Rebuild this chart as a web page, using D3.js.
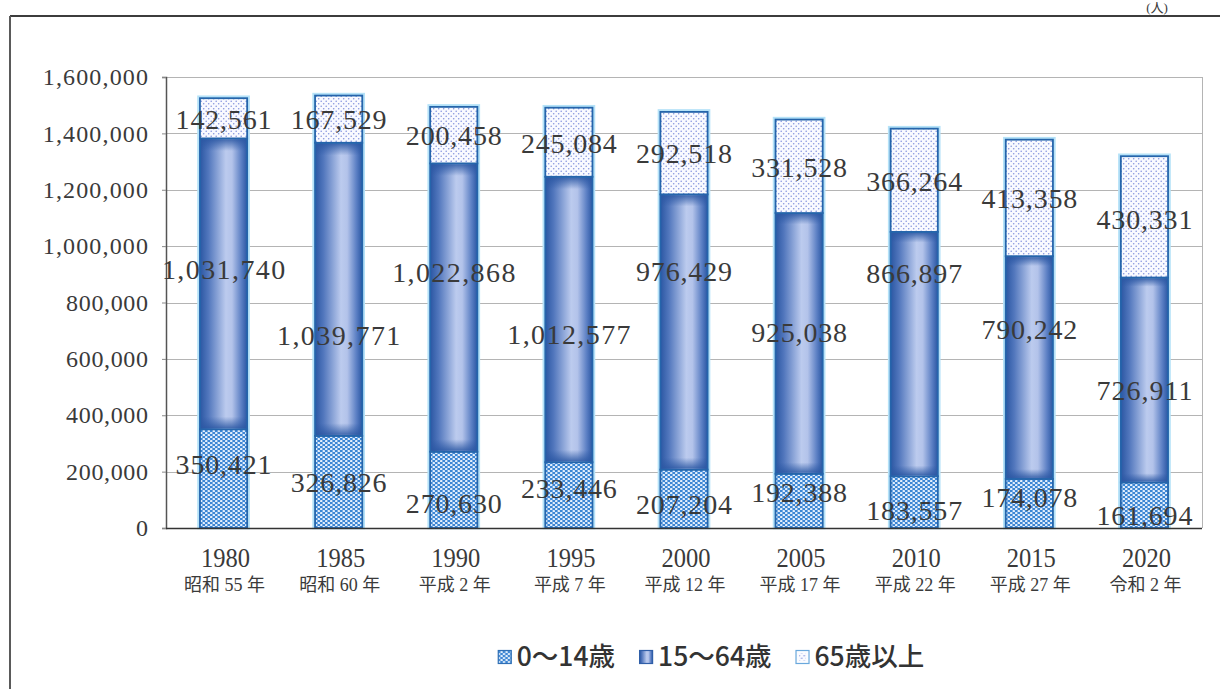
<!DOCTYPE html>
<html>
<head>
<meta charset="utf-8">
<script src="https://cdn.jsdelivr.net/npm/d3@7"></script>
<style>
  html, body { margin: 0; padding: 0; background: #fff; }
  svg { display: block; }
</style>
</head>
<body>
<svg id="chart" width="1220" height="689"></svg>
<script>
// ---- data ----
const years = ["1980", "1985", "1990", "1995", "2000", "2005", "2010", "2015", "2020"];
const eraLabels = ["昭和 55 年", "昭和 60 年", "平成 2 年", "平成 7 年", "平成 12 年", "平成 17 年", "平成 22 年", "平成 27 年", "令和 2 年"];
const age0_14 = [350421, 326826, 270630, 233446, 207204, 192388, 183557, 174078, 161694];
const age15_64 = [1031740, 1039771, 1022868, 1012577, 976429, 925038, 866897, 790242, 726911];
const age65 = [142561, 167529, 200458, 245084, 292518, 331528, 366264, 413358, 430331];
const seriesNames = ["0〜14歳", "15〜64歳", "65歳以上"];
const yTicks = [0, 200000, 400000, 600000, 800000, 1000000, 1200000, 1400000, 1600000];
// label anchor values (in data units, as placed in the original chart)
const labelAt0_14 = [227000, 163000, 89000, 142000, 85000, 128000, 64000, 110000, 46000];
const labelAt15_64 = [920000, 685000, 908000, 688000, 912000, 695000, 905000, 706000, 490000];
const labelAt65 = [1450000, 1450000, 1395000, 1365000, 1330000, 1280000, 1230000, 1170000, 1095000];

const keys = ["a", "b", "c"];
const table = years.map((yr, i) => ({ year: yr, a: age0_14[i], b: age15_64[i], c: age65[i] }));
const labelAnchors = { a: labelAt0_14, b: labelAt15_64, c: labelAt65 };

// ---- layout ----
const svg = d3.select("#chart");
const plot = { left: 166, right: 1202, top: 77, bottom: 528 };
const numFont = "'Liberation Serif', 'DejaVu Serif', serif";
const textColor = "#3a3a3a";

const x = d3.scaleBand().domain(years).range([plot.left, plot.right]).paddingInner(0.59).paddingOuter(0.295);
const y = d3.scaleLinear().domain([0, 1600000]).range([plot.bottom, plot.top]);

// ---- defs ----
const defs = svg.append("defs");
const pA = defs.append("pattern").attr("id", "patA").attr("patternUnits", "userSpaceOnUse")
  .attr("width", 5).attr("height", 4);
pA.append("rect").attr("width", 5).attr("height", 4).attr("fill", "#3d86d4");
pA.append("ellipse").attr("cx", 1.25).attr("cy", 1).attr("rx", 1.35).attr("ry", 0.95).attr("fill", "#eef6ff");
pA.append("ellipse").attr("cx", 3.75).attr("cy", 3).attr("rx", 1.35).attr("ry", 0.95).attr("fill", "#eef6ff");

const pC = defs.append("pattern").attr("id", "patC").attr("patternUnits", "userSpaceOnUse")
  .attr("width", 5).attr("height", 5);
pC.append("rect").attr("width", 5).attr("height", 5).attr("fill", "#f9faff");
pC.append("circle").attr("cx", 1.2).attr("cy", 1.2).attr("r", 0.8).attr("fill", "#8795de");
pC.append("circle").attr("cx", 3.7).attr("cy", 3.7).attr("r", 0.8).attr("fill", "#8795de");

const gB = defs.append("linearGradient").attr("id", "gradB").attr("x1", 0).attr("x2", 1).attr("y1", 0).attr("y2", 0);
[[0, "#2b57a3"], [0.18, "#5277bd"], [0.55, "#bccbee"], [0.68, "#b3c3ea"], [0.88, "#5a7ec3"], [1, "#2b57a3"]]
  .forEach(([o, c]) => gB.append("stop").attr("offset", o).attr("stop-color", c));
const gBv = defs.append("linearGradient").attr("id", "gradBv").attr("x1", 0).attr("x2", 0).attr("y1", 0).attr("y2", 1);
[[0, "#2b57a3", 0.85], [0.04, "#2b57a3", 0], [0.96, "#2b57a3", 0], [1, "#2b57a3", 0.85]]
  .forEach(([o, c, op]) => gBv.append("stop").attr("offset", o).attr("stop-color", c).attr("stop-opacity", op));

const fills = { a: "url(#patA)", b: "url(#gradB)", c: "url(#patC)" };

// ---- outer frame ----
svg.append("line").attr("x1", 10).attr("x2", 1220).attr("y1", 16).attr("y2", 16).attr("stroke", "#3c3c3c").attr("stroke-width", 2);
svg.append("line").attr("x1", 10).attr("x2", 10).attr("y1", 16).attr("y2", 689).attr("stroke", "#5a5a5a").attr("stroke-width", 2);
svg.append("text").attr("x", 1157).attr("y", 12).attr("text-anchor", "middle")
  .attr("font-family", "'Liberation Serif', 'Noto Sans CJK JP', serif").attr("font-size", 13).attr("fill", textColor).text("(人)");

// ---- gridlines ----
svg.append("g").selectAll("line").data(yTicks.filter(d => d > 0)).join("line")
  .attr("x1", plot.left).attr("x2", plot.right)
  .attr("y1", d => Math.round(y(d)) + 0.5).attr("y2", d => Math.round(y(d)) + 0.5)
  .attr("stroke", "#b4b4b4").attr("stroke-width", 1);
svg.append("line").attr("x1", plot.right + 0.5).attr("x2", plot.right + 0.5)
  .attr("y1", plot.top).attr("y2", plot.bottom).attr("stroke", "#b4b4b4");

// ---- y axis ----
const yAxis = svg.append("g").attr("transform", `translate(${plot.left},0)`)
  .call(d3.axisLeft(y).tickValues(yTicks).tickSize(4).tickPadding(14).tickFormat(d3.format(",")));
yAxis.select(".domain").attr("stroke", "#555").attr("stroke-width", 1.5);
yAxis.selectAll(".tick line").attr("stroke", "#888");
yAxis.selectAll("text").attr("font-family", numFont).attr("font-size", 24).attr("fill", textColor)
  .each(function () {
    const t = d3.select(this).text();
    if (t.length > 1) d3.select(this).attr("textLength", t.length * 11.7).attr("lengthAdjust", "spacing");
  });

// ---- bars ----
const stacked = d3.stack().keys(keys)(table);
const barsG = svg.append("g");
barsG.selectAll("rect.glow").data(table).join("rect").attr("class", "glow")
  .attr("x", d => x(d.year) - 1.5).attr("width", x.bandwidth() + 3)
  .attr("y", d => y(d.a + d.b + d.c) - 1.5).attr("height", d => y(0) - y(d.a + d.b + d.c) + 1.5)
  .attr("fill", "none").attr("stroke", "#b5e2f8").attr("stroke-width", 2.5);

stacked.forEach(s => {
  const g = barsG.append("g");
  g.selectAll("rect.seg").data(s).join("rect").attr("class", "seg")
    .attr("x", d => x(d.data.year)).attr("width", x.bandwidth())
    .attr("y", d => y(d[1])).attr("height", d => y(d[0]) - y(d[1]))
    .attr("fill", fills[s.key]).attr("stroke", "#2565ab").attr("stroke-width", 1.8);
  if (s.key === "b") {
    g.selectAll("rect.shade").data(s).join("rect").attr("class", "shade")
      .attr("x", d => x(d.data.year) + 1).attr("width", x.bandwidth() - 2)
      .attr("y", d => y(d[1]) + 1).attr("height", d => y(d[0]) - y(d[1]) - 2)
      .attr("fill", "url(#gradBv)");
  }
});

// bottom axis line
svg.append("line").attr("x1", plot.left).attr("x2", plot.right)
  .attr("y1", plot.bottom + 0.5).attr("y2", plot.bottom + 0.5).attr("stroke", "#333").attr("stroke-width", 1.5);

// ---- value labels ----
const fmt = d3.format(",");
keys.forEach(k => {
  svg.append("g").selectAll("text").data(table).join("text")
    .attr("x", d => x(d.year) + x.bandwidth() / 2)
    .attr("y", (d, i) => y(labelAnchors[k][i]))
    .attr("dy", "0.36em")
    .attr("text-anchor", "middle")
    .attr("font-family", numFont).attr("font-size", 28).attr("fill", textColor)
    .text(d => fmt(d[k]))
    .attr("textLength", d => fmt(d[k]).length * 13.7).attr("lengthAdjust", "spacing");
});

// ---- x labels ----
const xl = svg.append("g");
xl.selectAll("text.yr").data(years).join("text").attr("class", "yr")
  .attr("x", d => x(d) + x.bandwidth() / 2 + 2).attr("y", 567)
  .attr("text-anchor", "middle").attr("font-family", numFont).attr("font-size", 28).attr("fill", textColor)
  .attr("textLength", 49).attr("lengthAdjust", "spacingAndGlyphs")
  .text(d => d);
xl.selectAll("text.era").data(eraLabels).join("text").attr("class", "era")
  .attr("x", (d, i) => x(years[i]) + x.bandwidth() / 2 + 1).attr("y", 591)
  .attr("text-anchor", "middle")
  .attr("font-family", "'Liberation Serif', 'Noto Sans CJK JP', serif").attr("font-size", 18).attr("fill", textColor)
  .text(d => d);

// ---- legend ----
const legend = svg.append("g");
const legendFills = ["url(#patA)", "url(#gradB)", "#fbfcff"];
const legendStrokes = ["#2f6fb5", "#2f5ea8", "#6aa8dc"];
let lx = 0;
seriesNames.forEach((name, i) => {
  const g = legend.append("g");
  g.append("rect").attr("x", 0.5).attr("y", -6.5).attr("width", 13).attr("height", 13)
    .attr("fill", legendFills[i]).attr("stroke", legendStrokes[i]).attr("stroke-width", 1.2);
  if (i === 2) {
    g.append("rect").attr("x", 3.5).attr("y", -3.5).attr("width", 7).attr("height", 7).attr("fill", "url(#patC)");
  }
  const t = g.append("text").attr("x", 19).attr("y", 0).attr("dy", "0.35em")
    .attr("font-family", "'Noto Sans CJK JP', sans-serif").attr("font-size", 26.5)
    .attr("font-weight", 500).attr("fill", "#333").text(name);
  const w = 19 + t.node().getComputedTextLength();
  g.attr("transform", `translate(${lx},0)`);
  lx += w + 24;
});
const totalW = lx - 24;
legend.attr("transform", `translate(${711 - totalW / 2},657)`);
</script>
</body>
</html>
